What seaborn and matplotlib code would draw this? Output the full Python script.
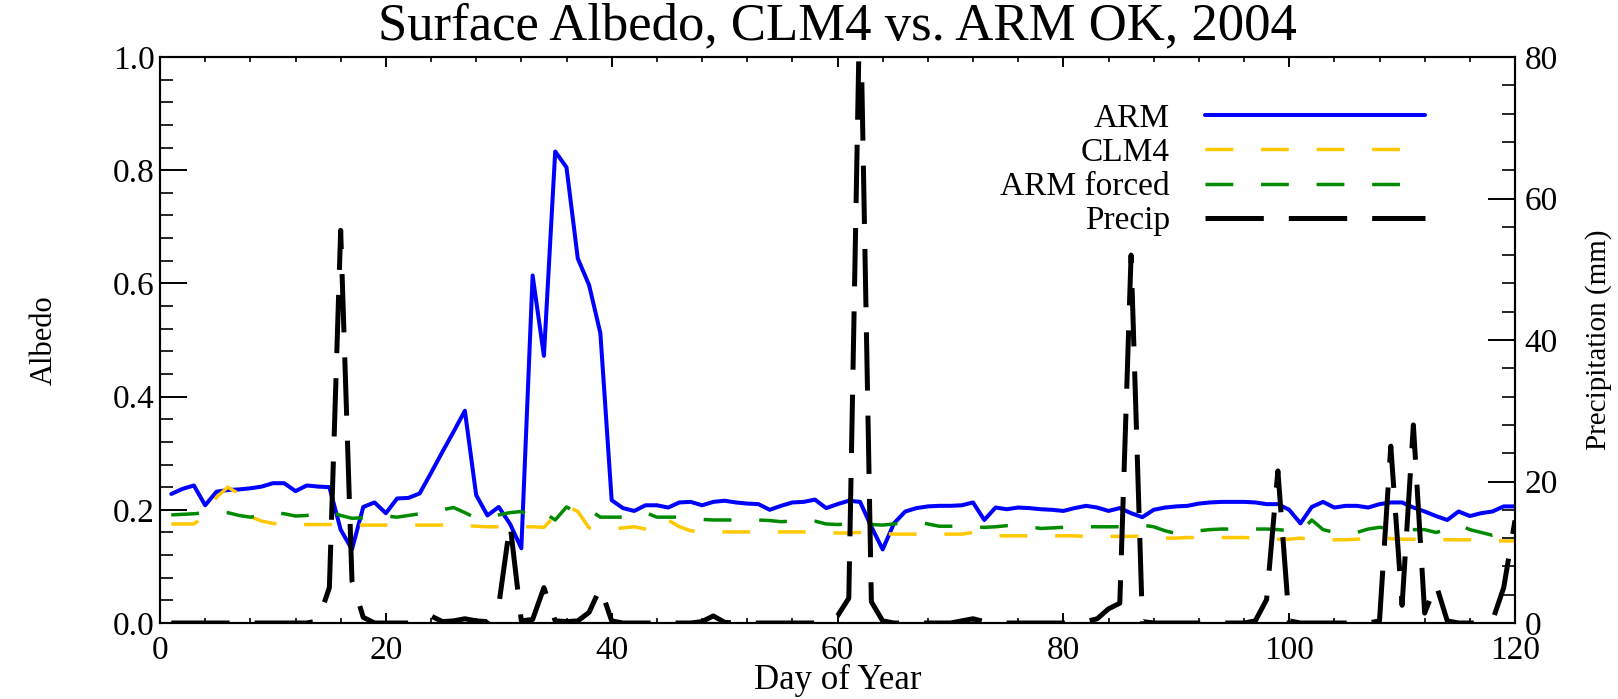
import matplotlib
matplotlib.use("Agg")
import matplotlib.pyplot as plt
from matplotlib.ticker import MultipleLocator
import numpy as np
import pandas as pd
import seaborn as sns

# ---- data: daily values, days 1-120 of 2004 ----
days = list(range(1, 121))

arm = [
    0.228, 0.237, 0.243, 0.208, 0.232, 0.235, 0.236, 0.238, 0.241, 0.247,
    0.247, 0.233, 0.243, 0.241, 0.240, 0.165, 0.130, 0.205, 0.213, 0.194,
    0.220, 0.221, 0.229, 0.265, 0.302, 0.338, 0.375, 0.226, 0.190, 0.205,
    0.175, 0.132, 0.614, 0.472, 0.833, 0.805, 0.644, 0.597, 0.512, 0.217,
    0.203, 0.198, 0.208, 0.208, 0.204, 0.213, 0.214, 0.208, 0.214, 0.216,
    0.213, 0.211, 0.210, 0.200, 0.207, 0.213, 0.214, 0.218, 0.203, 0.210,
    0.216, 0.214, 0.170, 0.130, 0.176, 0.197, 0.203, 0.206, 0.207, 0.207,
    0.208, 0.213, 0.182, 0.204, 0.201, 0.204, 0.203, 0.201, 0.200, 0.198,
    0.203, 0.207, 0.204, 0.198, 0.203, 0.194, 0.187, 0.200, 0.204, 0.206,
    0.207, 0.211, 0.213, 0.214, 0.214, 0.214, 0.213, 0.210, 0.210, 0.200,
    0.176, 0.205, 0.214, 0.204, 0.207, 0.207, 0.204, 0.210, 0.213, 0.213,
    0.204, 0.197, 0.189, 0.182, 0.197, 0.189, 0.194, 0.197, 0.206, 0.206,
]

clm4 = [
    0.175, 0.175, 0.175, 0.190, 0.222, 0.240, 0.228, 0.188, 0.180, 0.176,
    0.174, 0.174, 0.174, 0.174, 0.174, 0.174, 0.173, 0.173, 0.173, 0.173,
    0.173, 0.173, 0.173, 0.173, 0.173, 0.173, 0.172, 0.171, 0.170, 0.170,
    0.170, 0.170, 0.170, 0.169, 0.190, 0.207, 0.197, 0.168, 0.165, 0.166,
    0.168, 0.170, 0.166, 0.163, 0.182, 0.170, 0.163, 0.161, 0.161, 0.161,
    0.161, 0.161, 0.161, 0.161, 0.161, 0.161, 0.161, 0.160, 0.160, 0.159,
    0.159, 0.160, 0.161, 0.158, 0.157, 0.157, 0.157, 0.157, 0.157, 0.157,
    0.157, 0.160, 0.157, 0.154, 0.154, 0.154, 0.154, 0.154, 0.154, 0.154,
    0.154, 0.153, 0.153, 0.153, 0.153, 0.153, 0.154, 0.152, 0.150, 0.150,
    0.151, 0.151, 0.151, 0.151, 0.151, 0.151, 0.150, 0.149, 0.148, 0.148,
    0.150, 0.147, 0.147, 0.147, 0.147, 0.148, 0.150, 0.151, 0.149, 0.148,
    0.148, 0.148, 0.148, 0.147, 0.147, 0.147, 0.147, 0.146, 0.145, 0.145,
]

arm_forced = [
    0.191, 0.192, 0.193, 0.195, 0.197, 0.195, 0.190, 0.187, 0.190, 0.195,
    0.193, 0.189, 0.190, 0.194, 0.197, 0.190, 0.185, 0.186, 0.191, 0.189,
    0.187, 0.190, 0.193, 0.196, 0.200, 0.204, 0.195, 0.185, 0.188, 0.191,
    0.195, 0.197, 0.187, 0.195, 0.182, 0.205, 0.194, 0.200, 0.187, 0.187,
    0.187, 0.192, 0.195, 0.187, 0.187, 0.187, 0.185, 0.183, 0.182, 0.182,
    0.182, 0.182, 0.182, 0.181, 0.179, 0.180, 0.182, 0.180, 0.175, 0.174,
    0.175, 0.175, 0.174, 0.173, 0.175, 0.178, 0.179, 0.175, 0.171, 0.171,
    0.171, 0.170, 0.169, 0.170, 0.172, 0.173, 0.170, 0.167, 0.168, 0.169,
    0.169, 0.170, 0.170, 0.170, 0.170, 0.172, 0.173, 0.170, 0.163, 0.158,
    0.161, 0.163, 0.165, 0.166, 0.166, 0.166, 0.166, 0.166, 0.165, 0.163,
    0.161, 0.182, 0.165, 0.160, 0.158, 0.160, 0.166, 0.169, 0.167, 0.165,
    0.165, 0.165, 0.160, 0.165, 0.174, 0.165, 0.160, 0.155, 0.160, 0.165,
]

precip = [
    0.0, 0.0, 0.0, 0.0, 0.0, 0.0, 0.0, 0.0, 0.0, 0.0,
    0.0, 0.0, 0.0, 0.3, 5.0, 55.5, 6.0, 0.8, 0.0, 0.0,
    0.0, 0.0, 0.3, 1.0, 0.2, 0.3, 0.6, 0.3, 0.2, 2.5,
    14.0, 0.3, 0.5, 5.0, 0.3, 0.2, 0.3, 1.5, 5.0, 0.3,
    0.0, 0.0, 0.0, 0.0, 0.0, 0.0, 0.0, 0.2, 1.0, 0.1,
    0.0, 0.0, 0.0, 0.0, 0.0, 0.0, 0.0, 0.0, 0.0, 1.0,
    3.5, 90.0, 3.0, 0.3, 0.0, 0.0, 0.0, 0.0, 0.0, 0.0,
    0.3, 0.6, 0.2, 0.0, 0.0, 0.0, 0.0, 0.0, 0.0, 0.0,
    0.0, 0.2, 0.6, 2.0, 2.8, 52.0, 0.2, 0.0, 0.0, 0.0,
    0.0, 0.0, 0.0, 0.0, 0.0, 0.0, 0.3, 3.3, 21.5, 0.3,
    0.0, 0.0, 0.0, 0.0, 0.0, 0.0, 0.0, 0.3, 25.0, 2.5,
    28.0, 1.4, 5.5, 0.3, 0.0, 0.0, 0.0, 0.3, 5.0, 14.5,
]

series_labels = ["ARM", "CLM4", "ARM forced", "Precip"]
title_text = "Surface Albedo, CLM4 vs. ARM OK, 2004"
xlabel_text = "Day of Year"
ylabel_left = "Albedo"
ylabel_right = "Precipitation (mm)"

# ---- style ----
sns.set_theme(style="white", rc={
    "axes.edgecolor": "black",
    "text.color": "black",
    "axes.labelcolor": "black",
    "xtick.color": "black",
    "ytick.color": "black",
})
plt.rcParams["font.family"] = ["Liberation Serif", "DejaVu Serif"]
plt.rcParams["lines.scale_dashes"] = False

BLUE = "#0000FF"
GOLD = "#FFC800"
GREEN = "#008A00"
BLACK = "#000000"

df = pd.DataFrame({
    "day": days,
    "arm": arm,
    "clm4": clm4,
    "forced": arm_forced,
    "precip": precip,
})

W, H = 1618, 699
fig = plt.figure(figsize=(W / 100, H / 100), dpi=100)
ax = fig.add_axes([160 / W, 76 / H, 1355 / W, 566 / H])
ax2 = ax.twinx()

sns.lineplot(data=df, x="day", y="arm", ax=ax, color=BLUE, linewidth=2.9,
             estimator=None, errorbar=None, legend=False)
sns.lineplot(data=df, x="day", y="clm4", ax=ax, color=GOLD, linewidth=2.5,
             linestyle=(0, (20, 20)), estimator=None, errorbar=None, legend=False)
sns.lineplot(data=df, x="day", y="forced", ax=ax, color=GREEN, linewidth=2.5,
             linestyle=(0, (20, 20)), estimator=None, errorbar=None, legend=False)
sns.lineplot(data=df, x="day", y="precip", ax=ax2, color=BLACK, linewidth=3.6,
             linestyle=(0, (42, 18)), estimator=None, errorbar=None, legend=False)

# ---- axes limits and ticks ----
ax.set_xlim(0, 120)
ax.set_ylim(0, 1.0)
ax2.set_ylim(0, 80)

ax.xaxis.set_major_locator(MultipleLocator(20))
ax.xaxis.set_minor_locator(MultipleLocator(4))
ax.yaxis.set_major_locator(MultipleLocator(0.2))
ax.yaxis.set_minor_locator(MultipleLocator(0.04))
ax2.yaxis.set_major_locator(MultipleLocator(20))
ax2.yaxis.set_minor_locator(MultipleLocator(4))

ax.tick_params(axis="x", which="major", direction="in", length=7.5, width=1.4,
               bottom=True, top=True, labelsize=24, pad=9)
ax.tick_params(axis="x", which="minor", direction="in", length=3.8, width=1.2,
               bottom=True, top=True)
ax.tick_params(axis="y", which="major", direction="in", length=19.5, width=1.4,
               left=True, right=False, labelsize=24, pad=4)
ax.tick_params(axis="y", which="minor", direction="in", length=9.5, width=1.2,
               left=True, right=False)
ax2.tick_params(axis="y", which="major", direction="in", length=19.5, width=1.4,
                right=True, left=False, labelsize=24, pad=7)
ax2.tick_params(axis="y", which="minor", direction="in", length=9.5, width=1.2,
                right=True, left=False)

for a in (ax, ax2):
    for sp in a.spines.values():
        sp.set_linewidth(1.5)
        sp.set_color("black")

# ---- labels ----
ax.set_title(title_text, fontsize=38, pad=13)
ax.set_xlabel(xlabel_text, fontsize=25)
ax.xaxis.set_label_coords(0.5, -0.072)
ax.set_ylabel(ylabel_left, fontsize=22)
ax.yaxis.set_label_coords(-0.075, 0.5)
ax2.set_ylabel(ylabel_right, fontsize=21)
ax2.yaxis.set_label_coords(1.052, 0.5)

# ---- legend ----
handles = [ax.lines[0], ax.lines[1], ax.lines[2], ax2.lines[0]]
leg = ax2.legend(handles, series_labels, loc="upper right",
                 bbox_to_anchor=(0.9336, 0.918), frameon=False,
                 markerfirst=False, fontsize=24, handlelength=6.6,
                 handletextpad=1.05, labelspacing=0.11, borderpad=0,
                 borderaxespad=0)

fig.savefig("out.png", dpi=100)
